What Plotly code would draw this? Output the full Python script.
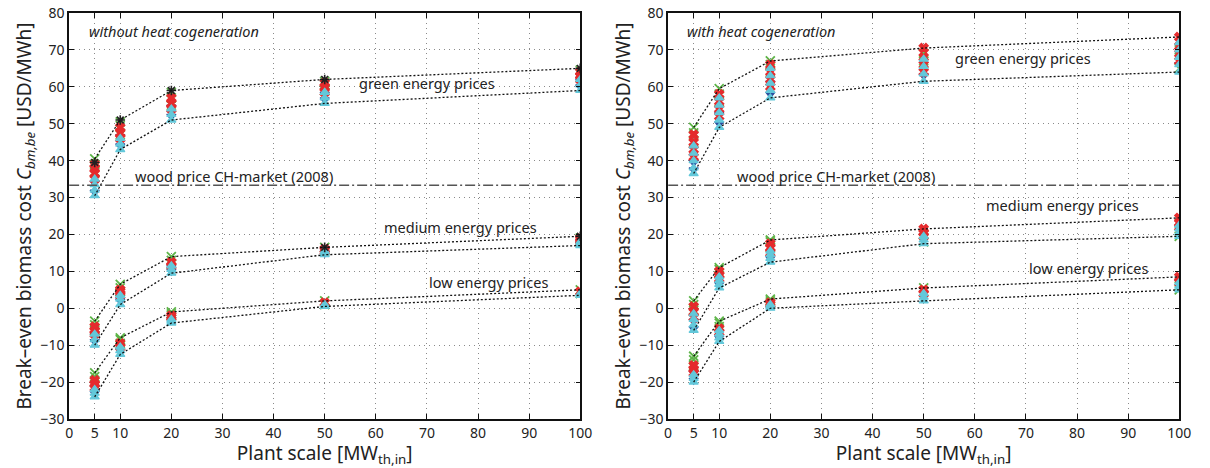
import plotly.graph_objects as go

# Plant scales [MW_th,in]
scales = [5, 10, 20, 50, 100]
wood_price = 33.3

# Break-even biomass cost values per scale (one inner list per scale)
# ---------- without heat cogeneration ----------
noheat_green = {
    "cyan":  [[30.5, 32, 33.5, 35], [43, 44.5, 46], [51, 52.5, 54], [55.5, 57, 58.5], [59, 60.5, 62]],
    "blue":  [[31.5, 34], [44, 46.5], [52, 54.5], [56.5, 58], [60, 61.5]],
    "red":   [[35, 36.5, 38, 39], [46, 47.5, 49], [54, 55.5, 57], [58.5, 60, 61], [62, 63, 64]],
    "green": [[37, 39, 40.5], [47, 49.5, 50.5], [55, 57, 58.5], [59, 60.5, 61.5], [62.5, 63.5, 64.5]],
    "black": [[39.5], [51], [59], [62], [65]],
}
noheat_medium = {
    "cyan":  [[-10, -8.5, -7], [1, 2.5, 3.5], [9.5, 10.5, 11.5], [14.5, 15, 15.5], [17, 17.5, 18]],
    "blue":  [[-9, -7.5], [2, 3], [10, 11], [15], [17.5]],
    "red":   [[-7, -6, -5], [3.5, 4.5, 5], [11.5, 12.5], [15.5, 16], [18, 18.5, 19]],
    "green": [[-6, -4.5, -3.5], [4.5, 5.5, 6.5], [12, 13, 14], [15.5, 16.5], [18.5, 19]],
    "black": [[], [], [], [16.5], [19.5]],
}
noheat_low = {
    "cyan":  [[-24, -23, -22], [-12.5, -11.5, -10.5], [-4, -3.5, -3], [0.5, 1], [3.5, 4]],
    "blue":  [[-23, -21.5], [-11.5], [-3], [], []],
    "red":   [[-21.5, -20.5, -19.5], [-10.5, -9.5], [-2.5, -2], [1.5], [4.5]],
    "green": [[-20, -18.5, -17.5], [-9.5, -8.5, -8], [-2, -1.5, -1], [1, 2], [4, 5]],
    "black": [[], [], [], [], []],
}

# ---------- with heat cogeneration ----------
heat_green = {
    "cyan":  [[36.5, 38, 40, 42, 44], [49, 51, 53, 55, 57], [57, 59, 61, 63, 65], [61.5, 63.5, 65.5, 67.5], [64, 66, 68, 70, 72]],
    "blue":  [[37.5, 39.5], [50, 52.5], [58, 61], [63], [66]],
    "red":   [[41, 43, 45, 47], [52, 54, 56, 58], [60, 62, 64, 66], [64, 66, 68, 70.5], [67, 69, 71, 73.5]],
    "green": [[45, 47.5, 49], [56, 58, 59.5], [64, 66, 67], [67, 69], [65, 70]],
    "black": [[], [], [], [], []],
}
heat_medium = {
    "cyan":  [[-6, -4.5, -3, -1.5], [5.5, 6.5, 7.5, 8.5], [12.5, 13.5, 14.5, 15.5], [17.5, 18.5, 19.5], [19.5, 20.5, 21.5, 22.5]],
    "blue":  [[-5.5, -3.5], [6.5], [13.5], [], []],
    "red":   [[-2.5, -1, 0.5], [8, 9, 10], [15, 16.5, 17.5], [19.5, 20.5, 21.5], [22, 23, 24.5]],
    "green": [[-0.5, 1, 2], [9.5, 10.5, 11], [16.5, 18, 18.5], [18, 20], [19.5, 21]],
    "black": [[], [], [], [], []],
}
heat_low = {
    "cyan":  [[-20, -19, -18], [-9, -8, -7, -6], [0, 0.5, 1], [2, 3, 4], [5, 6, 7]],
    "blue":  [[-19.5, -17.5], [-8], [], [], []],
    "red":   [[-17.5, -16.5, -15.5], [-6.5, -5.5], [1, 1.5], [4, 5], [7, 8.5]],
    "green": [[-15.5, -14, -13], [-5, -4, -3.5], [1.5, 2, 2.5], [4.5, 5.5], [5, 6]],
    "black": [[], [], [], [], []],
}

styles = {
    "cyan":  dict(color="#63c8da", symbol="triangle-up", size=8, lw=1.2),
    "blue":  dict(color="#2e4f9e", symbol="triangle-down", size=8, lw=1.2),
    "green": dict(color="#5db548", symbol="x-thin-open", size=9, lw=1.8),
    "red":   dict(color="#e52b2d", symbol="x", size=8, lw=1.3),
    "black": dict(color="#222222", symbol="asterisk-open", size=8, lw=1.6),
}
draw_order = ["blue", "green", "red", "cyan", "black"]

fig = go.Figure()

def add_group(group, xa, ya):
    # markers
    for name in draw_order:
        xs, ys = [], []
        for s, vals in zip(scales, group[name]):
            xs += [s] * len(vals)
            ys += vals
        if not xs:
            continue
        st = styles[name]
        fig.add_trace(go.Scatter(
            x=xs, y=ys, mode="markers", xaxis=xa, yaxis=ya, showlegend=False,
            marker=dict(color=st["color"], symbol=st["symbol"], size=st["size"],
                        line=dict(color=st["color"], width=st["lw"])),
        ))
    # envelope through cluster extremes
    hi = [max(sum((group[n][i] for n in group), [])) for i in range(len(scales))]
    lo = [min(sum((group[n][i] for n in group), [])) for i in range(len(scales))]
    for env in (hi, lo):
        fig.add_trace(go.Scatter(
            x=scales, y=env, mode="lines", xaxis=xa, yaxis=ya, showlegend=False,
            line=dict(color="#111111", width=1.3, dash="2px,2px"),
        ))

for g in (noheat_green, noheat_medium, noheat_low):
    add_group(g, "x", "y")
for g in (heat_green, heat_medium, heat_low):
    add_group(g, "x2", "y2")

# wood price reference line
for xa, ya in (("x", "y"), ("x2", "y2")):
    fig.add_trace(go.Scatter(
        x=[0, 100], y=[wood_price, wood_price], mode="lines", xaxis=xa, yaxis=ya,
        showlegend=False, line=dict(color="#555555", width=1.5, dash="10px,3px,2px,3px"),
    ))

font = "Noto Sans"
axis_common = dict(
    showline=True, linecolor="#111111", linewidth=1.5, mirror="ticks",
    ticks="inside", ticklen=5, tickcolor="#111111",
    showgrid=True, gridcolor="#8a8a8a", griddash="1px,4px", gridwidth=1,
    zeroline=False, tickfont=dict(family=font, size=14, color="#222222"),
)
xaxis_common = dict(axis_common, range=[0, 100],
                    tickvals=[0, 5, 10, 20, 30, 40, 50, 60, 70, 80, 90, 100],
                    title=dict(text="Plant scale [MW<sub>th,in</sub>]", standoff=2,
                               font=dict(family=font, size=19, color="#222222")))
yaxis_common = dict(axis_common, range=[-30, 80], dtick=10,
                    title=dict(text="Break\u2013even biomass cost <i>C<sub>bm,be</sub></i> [USD/MWh]",
                               standoff=4, font=dict(family=font, size=19, color="#222222")))

fig.update_layout(
    width=1210, height=468, plot_bgcolor="white", paper_bgcolor="white",
    margin=dict(l=0, r=0, t=13, b=49),
    xaxis=dict(xaxis_common, domain=[66 / 1210, 584 / 1210], anchor="y"),
    yaxis=dict(yaxis_common, domain=[0, 1], anchor="x"),
    xaxis2=dict(xaxis_common, domain=[673 / 1210, 1191 / 1210], anchor="y2"),
    yaxis2=dict(yaxis_common, domain=[0, 1], anchor="x2"),
)

def label(text, x, y, xa, ya, italic=False, anchor="center"):
    fig.add_annotation(x=x, y=y, xref=xa, yref=ya, text=f"<i>{text}</i>" if italic else text,
                       showarrow=False, xanchor=anchor,
                       font=dict(family=font, size=14.5, color="#222222"))

label("without heat cogeneration", 3.5, 75, "x", "y", italic=True, anchor="left")
label("green energy prices", 70, 61, "x", "y")
label("wood price CH-market (2008)", 12.5, 35.8, "x", "y", anchor="left")
label("medium energy prices", 76.6, 22, "x", "y")
label("low energy prices", 82, 7, "x", "y")

label("with heat cogeneration", 3.3, 75, "x2", "y2", italic=True, anchor="left")
label("green energy prices", 69.5, 67.7, "x2", "y2")
label("wood price CH-market (2008)", 13.1, 35.8, "x2", "y2", anchor="left")
label("medium energy prices", 77.2, 27.9, "x2", "y2")
label("low energy prices", 82.2, 10.8, "x2", "y2")

fig.write_html("out.html")
